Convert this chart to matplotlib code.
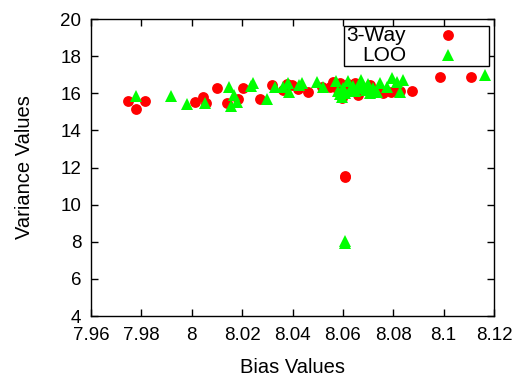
import matplotlib
matplotlib.use("Agg")
from matplotlib import pyplot as plt
from matplotlib.patches import Rectangle

plt.rcParams['font.family'] = ['Liberation Sans', 'DejaVu Sans']
plt.rcParams['font.size'] = 13.5

# 3-Way (red circles)
way3_bias = [7.9747, 7.9779, 7.9814, 8.0013, 8.0044, 8.0056, 8.0100, 8.0140, 8.0183, 8.0203,
             8.0271, 8.0318, 8.0362, 8.0378, 8.0398, 8.0421, 8.0461, 8.0517, 8.0560, 8.0588,
             8.0596, 8.0600, 8.0608, 8.0608, 8.0660, 8.0707, 8.0759, 8.0826, 8.0874, 8.0985,
             8.1108, 8.0575, 8.0590, 8.0620, 8.0640, 8.0680, 8.0700, 8.0630, 8.0580, 8.0550,
             8.0650, 8.0735, 8.0790, 8.0810]
way3_var = [15.58, 15.15, 15.58, 15.53, 15.80, 15.47, 16.28, 15.47, 15.69, 16.28,
            15.69, 16.44, 16.17, 16.50, 16.44, 16.23, 16.07, 16.34, 16.61, 16.28,
            15.74, 16.00, 11.49, 11.52, 15.91, 16.44, 16.01, 16.12, 16.12, 16.87,
            16.87, 16.45, 16.55, 16.50, 16.30, 16.20, 16.30, 16.10, 16.20, 16.35,
            16.55, 16.10, 16.05, 16.15]

# LOO (green triangles)
loo_bias = [7.9779, 7.9917, 7.9981, 8.0052, 8.0148, 8.0155, 8.0167, 8.0179, 8.0235, 8.0243,
            8.0298, 8.0330, 8.0362, 8.0382, 8.0386, 8.0425, 8.0437, 8.0497, 8.0521, 8.0572,
            8.0596, 8.0620, 8.0671, 8.0707, 8.0735, 8.0747, 8.0775, 8.0794, 8.0814, 8.0826,
            8.0838, 8.1163, 8.0608, 8.0608, 8.0580, 8.0600, 8.0610, 8.0630, 8.0640, 8.0650,
            8.0660, 8.0680, 8.0690, 8.0700, 8.0720, 8.0590]
loo_var = [15.85, 15.85, 15.42, 15.47, 16.34, 15.31, 15.91, 15.53, 16.39, 16.55,
           15.69, 16.34, 16.34, 16.55, 16.07, 16.44, 16.55, 16.61, 16.34, 16.66,
           15.80, 16.66, 16.71, 16.01, 16.07, 16.55, 16.34, 16.82, 16.61, 16.07,
           16.71, 16.98, 7.93, 8.05, 16.10, 16.30, 16.00, 16.20, 16.40, 16.10,
           16.30, 16.40, 16.20, 16.50, 16.30, 15.95]

x_ticks = [7.96, 7.98, 8.0, 8.02, 8.04, 8.06, 8.08, 8.1, 8.12]
x_labels = ['7.96', '7.98', '8', '8.02', '8.04', '8.06', '8.08', '8.1', '8.12']
y_ticks = [4, 6, 8, 10, 12, 14, 16, 18, 20]

fig = plt.figure(figsize=(5.31, 3.85), dpi=100)
ax = fig.add_axes([0.1714, 0.1792, 0.7589, 0.7714])

ax.plot(way3_bias, way3_var, 'o', color='#ff0000', markersize=7.8, markeredgewidth=0)
ax.plot(loo_bias, loo_var, '^', color='#00ff00', markersize=8.2, markeredgewidth=0)

ax.set_xlim(7.96, 8.12)
ax.set_ylim(4, 20)
ax.set_xticks(x_ticks)
ax.set_xticklabels(x_labels)
ax.set_yticks(y_ticks)
ax.tick_params(direction='in', length=5, width=1, top=True, right=True)
ax.tick_params(axis='x', pad=8)
ax.tick_params(axis='y', pad=7)
for s in ax.spines.values():
    s.set_linewidth(1)

ax.set_xlabel('Bias Values', fontsize=14.5, labelpad=10)
ax.set_ylabel('Variance Values', fontsize=14.5, labelpad=19)

# gnuplot-style key: text right-aligned, sample on the right
ax.add_patch(Rectangle((0.628, 0.842), 0.36, 0.134, transform=ax.transAxes,
                       facecolor='white', edgecolor='black', lw=1, zorder=5))
ax.text(0.782, 0.944, '3-Way', fontsize=15, transform=ax.transAxes, ha='right', va='center', zorder=6)
ax.text(0.782, 0.877, 'LOO', fontsize=15, transform=ax.transAxes, ha='right', va='center', zorder=6)
ax.plot([0.886], [0.946], 'o', color='#ff0000', markersize=7.8, markeredgewidth=0,
        transform=ax.transAxes, zorder=6, clip_on=False)
ax.plot([0.886], [0.879], '^', color='#00ff00', markersize=8.2, markeredgewidth=0,
        transform=ax.transAxes, zorder=6, clip_on=False)

fig.savefig('out.png', dpi=100)
